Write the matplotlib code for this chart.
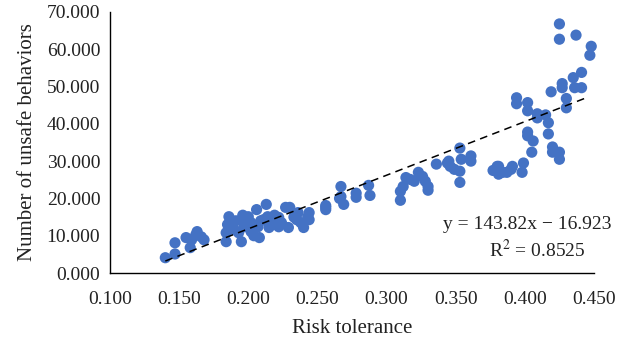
import numpy as np
import matplotlib
matplotlib.use('Agg')
import matplotlib.pyplot as plt

# risk tolerance vs number of unsafe behaviors
risk = [
    0.140, 0.147, 0.147, 0.158, 0.159, 0.163, 0.166, 0.168, 0.155, 0.162,
    0.184, 0.184, 0.186, 0.188, 0.195, 0.193, 0.195, 0.200, 0.197, 0.206,
    0.208, 0.207, 0.213, 0.214, 0.215, 0.222, 0.222, 0.227, 0.229, 0.230,
    0.236, 0.235, 0.240, 0.244, 0.244, 0.190, 0.202, 0.211, 0.202, 0.199,
    0.217, 0.224, 0.185, 0.191, 0.196, 0.204, 0.209, 0.219, 0.233, 0.238,
    0.243, 0.256, 0.256, 0.256, 0.267, 0.267, 0.269, 0.278, 0.278, 0.287,
    0.288, 0.266, 0.310, 0.310, 0.312, 0.314, 0.320, 0.317, 0.323, 0.326,
    0.328, 0.330, 0.330, 0.336, 0.345, 0.346, 0.349, 0.353, 0.354, 0.353,
    0.353, 0.361, 0.361, 0.344, 0.380, 0.381, 0.381, 0.387, 0.391, 0.398,
    0.399, 0.384, 0.394, 0.394, 0.402, 0.402, 0.409, 0.409, 0.415, 0.417,
    0.402, 0.402, 0.406, 0.417, 0.420, 0.420, 0.425, 0.425, 0.405, 0.419,
    0.430, 0.430, 0.427, 0.427, 0.436, 0.441, 0.435, 0.441, 0.447, 0.448,
    0.437, 0.425, 0.425, 0.377, 0.390,
]
unsafe = [
    4.1, 5.1, 8.1, 6.8, 8.9, 11.1, 9.7, 8.9, 9.5, 10.2,
    8.4, 10.8, 15.1, 12.4, 8.4, 10.8, 14.3, 15.1, 12.4, 17.0,
    9.5, 12.4, 18.4, 15.1, 12.2, 14.9, 12.4, 17.6, 12.2, 17.6,
    16.2, 14.3, 12.2, 16.2, 14.3, 11.6, 13.5, 14.3, 11.1, 13.8,
    13.8, 13.5, 13.0, 14.0, 15.5, 10.0, 14.0, 15.5, 15.0, 13.5,
    15.0, 17.6, 18.1, 17.0, 23.2, 20.5, 18.4, 21.4, 20.3, 23.5,
    20.8, 20.0, 19.5, 21.9, 23.2, 25.6, 24.6, 25.1, 27.0, 25.9,
    24.6, 23.2, 22.2, 29.2, 30.0, 28.6, 27.8, 33.5, 30.5, 27.3,
    24.3, 31.4, 30.0, 29.5, 28.6, 28.6, 26.5, 27.0, 28.6, 27.0,
    29.5, 27.0, 47.0, 45.4, 45.7, 43.5, 42.7, 41.6, 42.4, 40.3,
    37.8, 36.8, 35.4, 37.3, 33.8, 32.4, 32.4, 30.5, 32.4, 48.6,
    46.8, 44.3, 50.8, 49.7, 49.7, 49.7, 52.4, 53.8, 58.4, 60.8,
    63.8, 66.8, 62.7, 27.5, 27.8,
]

# trendline as printed on the chart
slope = 143.82
intercept = -16.923

xticks = [0.100, 0.150, 0.200, 0.250, 0.300, 0.350, 0.400, 0.450]
yticks = [0, 10, 20, 30, 40, 50, 60, 70]

plt.rcParams['font.family'] = ['Liberation Serif', 'DejaVu Serif']
plt.rcParams['mathtext.fontset'] = 'stix'

fig = plt.figure(figsize=(6.23, 3.41), dpi=100)
ax = fig.add_axes([110 / 623, 68 / 341, 484 / 623, 261 / 341])

ax.scatter(risk, unsafe, s=65, color='#4472C4', edgecolors='none', zorder=2, clip_on=False)

xs = np.array([min(risk), 0.445])
ax.plot(xs, slope * xs + intercept, color='black', lw=1.1, ls=(0, (5, 3.5)), zorder=3)

ax.set_xlim(0.1, 0.45)
ax.set_ylim(0, 70)
ax.set_xticks(xticks)
ax.set_xticklabels([f'{v:.3f}' for v in xticks])
ax.set_yticks(yticks)
ax.set_yticklabels([f'{v:.3f}' for v in yticks])
ax.tick_params(length=0, labelsize=14, colors='#222222')
ax.tick_params(axis='x', pad=13)
ax.tick_params(axis='y', pad=7)

for side in ['top', 'right']:
    ax.spines[side].set_visible(False)
for side in ['left', 'bottom']:
    ax.spines[side].set_color('black')
    ax.spines[side].set_linewidth(1.0)

ax.set_xlabel('Risk tolerance', fontsize=15, color='#222222', labelpad=8)
ax.set_ylabel('Number of unsafe behaviors', fontsize=15, color='#222222', labelpad=7)

ax.text(0.402, 12.9, 'y = 143.82x \u2212 16.923', fontsize=14, color='#222222',
        ha='center', va='center')
ax.text(0.409, 6.2, 'R$^{2}$ = 0.8525', fontsize=14, color='#222222',
        ha='center', va='center')

fig.savefig('out.png', dpi=100)
